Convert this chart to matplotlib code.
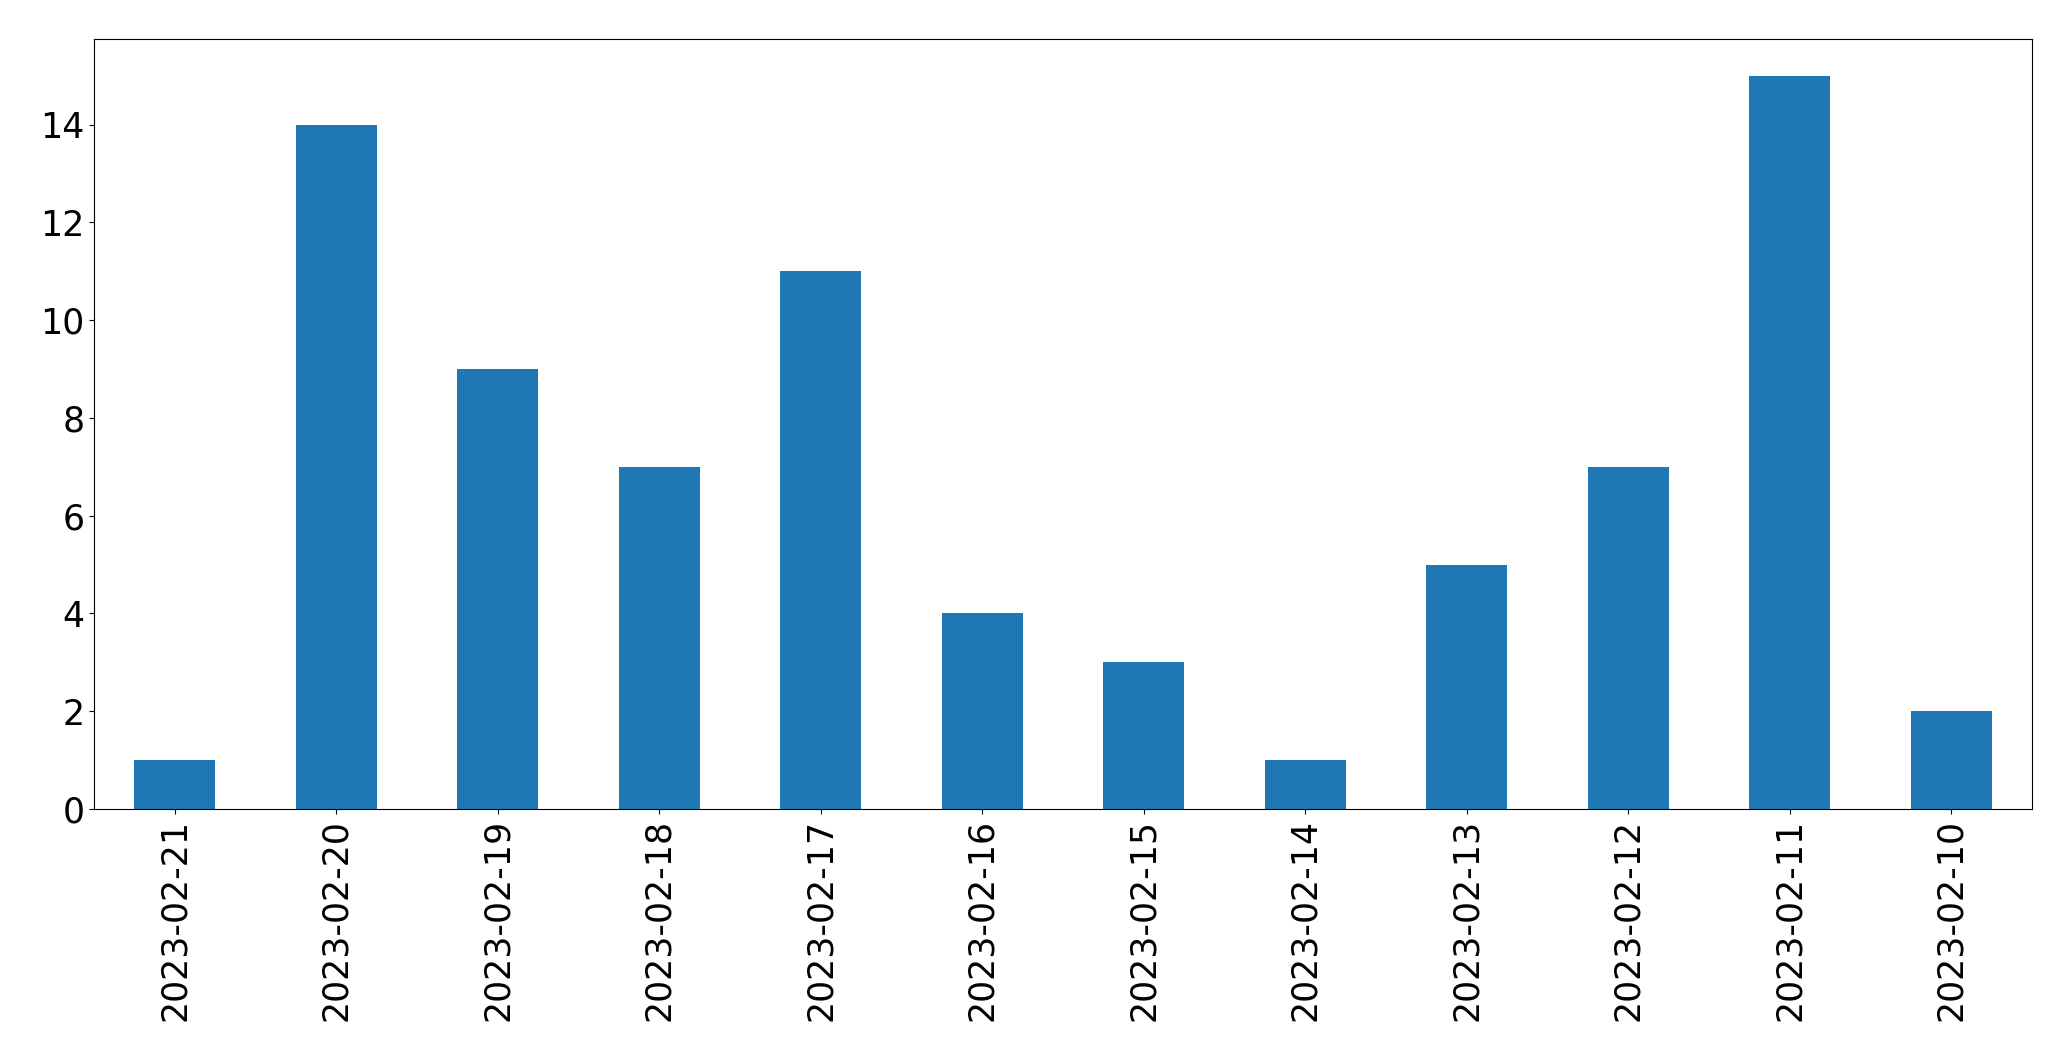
import pandas as pd
import matplotlib
matplotlib.use("Agg")
import matplotlib.pyplot as plt

dates = ["2023-02-21", "2023-02-20", "2023-02-19", "2023-02-18", "2023-02-17",
         "2023-02-16", "2023-02-15", "2023-02-14", "2023-02-13", "2023-02-12",
         "2023-02-11", "2023-02-10"]
counts = [1, 14, 9, 7, 11, 4, 3, 1, 5, 7, 15, 2]

plt.rcParams["font.size"] = 25

s = pd.Series(counts, index=dates)

fig = plt.figure(figsize=(20.71, 10.61), dpi=100)
ax = fig.add_axes([94 / 2071, 1 - 809 / 1061, (2032 - 94) / 2071, (809 - 39) / 1061])
s.plot(kind="bar", ax=ax, color="#1f77b4")
ax.tick_params(labelsize=25)

fig.savefig("out.png", dpi=100)
plt.close(fig)
